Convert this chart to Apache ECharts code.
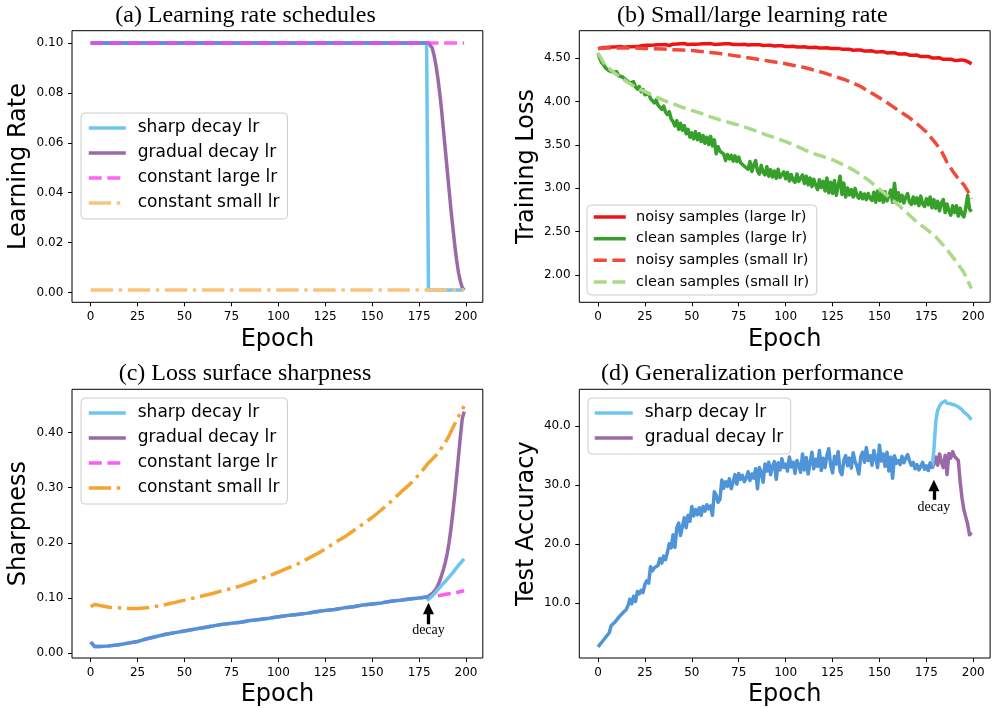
<!DOCTYPE html>
<html><head><meta charset="utf-8">
<script src="https://cdn.jsdelivr.net/npm/echarts@6/dist/echarts.min.js"></script>
<style>html,body{margin:0;padding:0;background:#fff}#c{width:992px;height:708px}</style>
</head><body><div id="c"></div>
<script>
// ---------- tick labels ----------
const epochTicks = [0, 25, 50, 75, 100, 125, 150, 175, 200];
const lrTicks = [0, 0.02, 0.04, 0.06, 0.08, 0.10];
const lossTicks = [2.0, 2.5, 3.0, 3.5, 4.0, 4.5];
const sharpTicks = [0, 0.1, 0.2, 0.3, 0.4];
const accTicks = [10, 20, 30, 40];

// ---------- (a) learning rate schedules ----------
const aSharedEpochs = [0, 179];
const aSharedLr = [0.1, 0.1];
const aSharpEpochs = [0, 179, 180, 199];
const aSharpLr = [0.1, 0.1, 0.001, 0.001];
const aGradualEpochs = [0, 180, 181, 182, 183, 184, 185, 186, 187, 188, 189, 190, 191, 192, 193, 194, 195, 196, 197, 198, 199];
const aGradualLr = [0.1, 0.1, 0.0995, 0.098, 0.095, 0.091, 0.086, 0.080, 0.073, 0.065, 0.057, 0.049, 0.041, 0.033, 0.026, 0.019, 0.013, 0.008, 0.0045, 0.002, 0.001];
const aLargeEpochs = [0, 199];
const aLargeLr = [0.1, 0.1];
const aSmallEpochs = [0, 199];
const aSmallLr = [0.001, 0.001];

// ---------- (b) training loss ----------
const bNoisyLarge = [
4.612,4.618,4.621,4.617,4.625,4.622,4.628,4.624,4.631,4.627,
4.633,4.629,4.636,4.631,4.628,4.637,4.634,4.640,4.635,4.642,
4.638,4.645,4.641,4.636,4.647,4.643,4.650,4.644,4.652,4.646,
4.653,4.649,4.656,4.651,4.658,4.653,4.660,4.655,4.648,4.659,
4.663,4.657,4.665,4.660,4.668,4.662,4.671,4.664,4.659,4.666,
4.662,4.669,4.664,4.670,4.665,4.660,4.667,4.662,4.669,4.664,
4.670,4.665,4.661,4.668,4.663,4.670,4.666,4.672,4.667,4.662,
4.668,4.663,4.659,4.665,4.660,4.666,4.661,4.657,4.663,4.658,
4.655,4.661,4.656,4.662,4.657,4.652,4.658,4.653,4.649,4.655,
4.650,4.646,4.652,4.647,4.643,4.649,4.644,4.640,4.645,4.641,
4.637,4.643,4.638,4.634,4.640,4.635,4.631,4.637,4.632,4.628,
4.634,4.629,4.625,4.631,4.626,4.622,4.628,4.623,4.619,4.625,
4.620,4.616,4.622,4.617,4.613,4.619,4.614,4.609,4.615,4.610,
4.606,4.612,4.604,4.598,4.606,4.600,4.594,4.601,4.595,4.589,
4.596,4.590,4.584,4.592,4.585,4.579,4.587,4.580,4.574,4.582,
4.575,4.569,4.577,4.570,4.563,4.571,4.564,4.557,4.565,4.558,
4.551,4.559,4.550,4.543,4.552,4.544,4.537,4.545,4.537,4.529,
4.538,4.529,4.521,4.530,4.521,4.513,4.522,4.513,4.505,4.514,
4.505,4.497,4.506,4.497,4.489,4.498,4.489,4.482,4.491,4.483,
4.476,4.486,4.478,4.471,4.482,4.493,4.472,4.462,4.451,4.435];
const bCleanLarge = [
4.560,4.495,4.450,4.425,4.390,4.385,4.355,4.378,4.340,4.335,
4.345,4.300,4.310,4.285,4.262,4.250,4.270,4.215,4.205,4.230,
4.170,4.145,4.175,4.115,4.140,4.080,4.060,4.095,4.035,4.045,
3.985,4.020,3.960,3.965,3.910,3.950,3.880,3.850,3.885,3.800,
3.770,3.720,3.780,3.680,3.750,3.670,3.725,3.630,3.680,3.590,
3.640,3.570,3.655,3.560,3.630,3.540,3.610,3.520,3.590,3.505,
3.600,3.490,3.560,3.400,3.480,3.430,3.440,3.395,3.320,3.390,
3.340,3.380,3.315,3.375,3.310,3.360,3.295,3.315,3.255,3.240,
3.220,3.310,3.195,3.270,3.320,3.200,3.165,3.265,3.185,3.155,
3.250,3.140,3.215,3.130,3.200,3.115,3.220,3.125,3.105,3.190,
3.110,3.185,3.085,3.160,3.095,3.070,3.165,3.080,3.060,3.155,
3.055,3.140,3.040,3.120,3.020,3.105,3.035,2.985,3.100,3.010,
3.080,2.970,3.120,2.950,3.070,2.940,3.090,2.920,3.030,3.140,
2.930,3.060,2.900,3.005,2.925,2.985,2.900,3.000,2.915,2.885,
2.950,2.880,2.935,2.870,2.940,2.885,2.860,2.955,2.840,2.970,
2.860,2.940,2.840,2.960,2.855,2.920,2.980,2.840,3.060,2.860,
2.950,2.850,2.920,2.830,2.900,2.940,2.840,2.815,2.900,2.825,
2.890,2.800,2.910,2.820,2.790,2.880,2.810,2.900,2.775,2.870,
2.770,2.850,2.740,2.830,2.870,2.720,2.820,2.740,2.690,2.800,
2.720,2.800,2.680,2.770,2.700,2.670,2.780,2.920,2.760,2.730];
const bNoisySmallEpochs = [0,5,10,15,20,25,30,35,40,45,50,55,60,65,70,75,80,85,90,95,100,105,110,115,120,125,130,135,140,145,150,155,160,165,170,175,180,183,186,189,192,195,197,199];
const bNoisySmall = [4.615,4.618,4.620,4.620,4.618,4.615,4.612,4.607,4.600,4.595,4.590,4.580,4.568,4.555,4.540,4.525,4.507,4.490,4.472,4.455,4.438,4.415,4.395,4.365,4.335,4.300,4.265,4.225,4.175,4.110,4.045,3.975,3.900,3.830,3.745,3.650,3.520,3.430,3.300,3.200,3.110,3.040,2.970,2.880];
const bCleanSmallEpochs = [0,3,5,10,15,20,25,30,35,40,45,50,55,60,65,70,75,80,85,90,95,100,105,110,115,120,125,130,135,140,145,150,155,160,165,170,175,180,185,190,195,199];
const bCleanSmall = [4.560,4.450,4.400,4.310,4.235,4.165,4.115,4.065,4.015,3.975,3.935,3.900,3.865,3.825,3.790,3.760,3.730,3.695,3.655,3.615,3.578,3.540,3.495,3.445,3.400,3.365,3.330,3.280,3.225,3.160,3.080,2.990,2.900,2.810,2.710,2.610,2.530,2.440,2.320,2.180,2.030,1.845];

// ---------- (c) sharpness ----------
const cSharedEpochs = [0,1,2,5,10,15,20,25,30,35,40,45,50,55,60,65,70,75,80,85,90,95,100,105,110,115,120,125,130,135,140,145,150,155,160,165,170,175,180];
const cShared = [0.020,0.016,0.012,0.012,0.013,0.015,0.018,0.021,0.026,0.030,0.034,0.037,0.040,0.043,0.046,0.049,0.052,0.054,0.056,0.059,0.061,0.063,0.066,0.068,0.070,0.072,0.075,0.077,0.079,0.082,0.084,0.087,0.089,0.091,0.094,0.096,0.098,0.100,0.102];
const cLargeTailEpochs = [180,185,190,195,199];
const cLargeTail = [0.102,0.104,0.107,0.110,0.113];
const cSharpTailEpochs = [179,180,181,183,185,187,190,193,196,199];
const cSharpTail = [0.101,0.097,0.100,0.107,0.115,0.123,0.134,0.146,0.159,0.171];
const cGradualTailEpochs = [179,180,182,184,185,186,187,188,189,190,191,192,193,194,195,196,197,198,199];
const cGradualTail = [0.101,0.102,0.108,0.116,0.123,0.131,0.141,0.152,0.165,0.181,0.201,0.226,0.255,0.287,0.321,0.357,0.393,0.425,0.438];
const cSmallEpochs = [0,2,4,7,10,15,20,25,30,35,40,45,50,55,60,65,70,75,80,85,90,95,100,105,110,115,120,125,130,135,140,145,150,155,160,165,170,175,180,185,190,195,199];
const cSmall = [0.084,0.088,0.087,0.085,0.083,0.082,0.081,0.081,0.082,0.085,0.088,0.092,0.096,0.100,0.104,0.108,0.113,0.117,0.122,0.128,0.134,0.140,0.147,0.154,0.161,0.170,0.179,0.189,0.200,0.210,0.222,0.234,0.246,0.260,0.275,0.291,0.306,0.324,0.345,0.362,0.388,0.423,0.448];
const cDecayArrow = [180, 0.0522, 0.0806, 0.0415]; // epoch, tail, head centre, text

// ---------- (d) test accuracy ----------
const dShared = [
2.6,3.0,3.4,3.6,4.2,4.5,5.0,6.2,5.9,6.8,
7.2,7.6,7.9,8.3,8.6,8.9,9.6,10.7,9.9,11.2,
10.3,12.0,11.6,12.2,11.8,13.2,13.8,13.4,16.2,15.5,
16.0,15.7,16.4,17.6,16.8,18.0,17.4,18.6,20.1,19.4,
21.6,19.5,22.8,23.6,21.5,23.0,24.5,22.8,24.9,23.9,
26.4,24.8,25.9,25.0,26.2,24.9,26.4,25.6,26.7,26.0,
26.5,24.9,28.9,28.3,27.1,27.6,30.9,29.5,30.6,29.8,
31.1,29.4,30.5,31.8,30.2,32.0,31.0,31.7,30.6,31.2,
32.3,30.8,31.9,31.2,32.8,29.4,33.0,32.2,30.5,33.6,
32.4,33.9,31.8,33.2,34.0,31.0,33.8,32.6,34.5,33.0,
33.6,32.4,34.8,33.1,33.9,32.0,34.2,33.4,32.2,35.3,
32.6,34.7,31.9,33.8,35.6,32.8,34.4,33.2,35.9,32.5,
34.6,33.0,35.1,36.2,33.4,32.1,34.9,33.6,35.7,32.4,
31.8,34.2,35.0,33.3,34.6,32.9,35.5,34.0,33.2,31.9,
34.8,35.6,33.9,36.4,34.2,35.0,33.4,35.9,34.5,33.0,
36.8,34.1,35.3,33.2,35.6,32.4,34.8,31.2,35.0,33.7,
34.2,33.5,34.9,33.8,34.6,35.2,34.1,33.4,33.9,32.8,
33.5,32.6,33.2,33.9,32.7,33.3,32.5,33.8,32.8];
const dTailEpochs = [178,179,180,181,182,183,184,185,186,187,188,189,190,191,192,193,194,195,196,197,198,199];
const dSharpTail = [32.8,36.0,40.8,42.7,43.4,43.9,44.2,44.3,43.9,44.0,43.8,43.9,43.6,43.5,43.3,43.1,42.8,42.4,42.1,41.9,41.5,41.1];
const dGradualTail = [32.8,33.6,34.8,33.4,35.3,33.9,33.0,35.1,31.8,35.4,34.6,35.7,34.9,35.0,34.2,30.6,27.8,25.8,24.6,23.4,21.6,22.0];
const dDecayArrow = [179, 27.54, 29.95, 26.21];

// ---------- build ----------
const zip = (xs, ys) => xs.map((x, i) => [x, ys[i]]);
const seq = ys => ys.map((y, i) => [i, y]);
const SANS = 'DejaVu Sans', SERIF = 'Liberation Serif';
const LW = 3.5;
const DASH = [13, 5.6];
const DASHDOT = [22.4, 5.6, 3.5, 5.6];

function line(name, gi, data, color, type, extra) {
  return Object.assign({
    type: 'line', name: name, xAxisIndex: gi, yAxisIndex: gi, data: data,
    symbol: 'none', showSymbol: false, silent: true, animation: false, clip: true,
    lineStyle: { color: color, width: LW, type: type || 'solid', join: 'round', cap: 'butt' },
    itemStyle: { color: color }, emphasis: { disabled: true }
  }, extra || {});
}
function arrow(spec) {
  return {
    markLine: {
      silent: true, animation: false, symbol: ['none', 'triangle'], symbolSize: [11, 11.5],
      lineStyle: { color: '#000', width: 3.3, type: 'solid' }, itemStyle: { color: '#000' },
      label: { show: false }, emphasis: { disabled: true },
      data: [[{ coord: [spec[0], spec[1]] }, { coord: [spec[0], spec[2]] }]]
    },
    markPoint: {
      silent: true, animation: false, symbol: 'rect', symbolSize: 1,
      itemStyle: { color: 'rgba(0,0,0,0)' },
      label: { show: true, position: 'inside', formatter: 'decay', color: '#000', fontFamily: SERIF, fontSize: 14 },
      data: [{ coord: [spec[0], spec[3]] }]
    }
  };
}

const grids = [
  { left: 72, top: 30.7, width: 410.8, height: 271.6 },
  { left: 579.3, top: 30.7, width: 410.8, height: 271.6 },
  { left: 72, top: 389.3, width: 410.8, height: 271.4 },
  { left: 579.3, top: 389.3, width: 410.8, height: 271.4 }
].map(g => Object.assign(g, { show: true, borderColor: '#000', borderWidth: 1, backgroundColor: 'rgba(0,0,0,0)', containLabel: false }));

const axisFont = { fontSize: 12, fontFamily: SANS, color: '#000' };
const nameFont = { fontSize: 24, fontFamily: SANS, color: '#000' };
function xAx(gi) {
  return {
    type: 'value', gridIndex: gi, min: -9.95, max: 208.95, position: 'bottom',
    axisLine: { show: false, onZero: false }, splitLine: { show: false },
    axisTick: { show: true, customValues: epochTicks, length: 4, lineStyle: { color: '#000', width: 1 } },
    axisLabel: Object.assign({ show: true, customValues: epochTicks, margin: 8.6 }, axisFont),
    name: 'Epoch', nameLocation: 'middle', nameGap: 25, nameTextStyle: nameFont
  };
}
function yAx(gi, min, max, ticks, dec, name, gap) {
  return {
    type: 'value', gridIndex: gi, min: min, max: max, position: 'left',
    axisLine: { show: false, onZero: false }, splitLine: { show: false },
    axisTick: { show: true, customValues: ticks, length: 4, lineStyle: { color: '#000', width: 1 } },
    axisLabel: Object.assign({ show: true, customValues: ticks, margin: 8.7, formatter: v => v.toFixed(dec) }, axisFont),
    name: name, nameLocation: 'middle', nameGap: gap, nameTextStyle: nameFont
  };
}
function legend(left, top, names, fs, lh, iw, gap, pad, tpad) {
  return {
    orient: 'vertical', left: left, top: top, data: names, selectedMode: false,
    itemWidth: iw, itemHeight: 12, itemGap: gap, padding: pad,
    formatter: n => n.slice(2),
    textStyle: { fontSize: fs, lineHeight: lh, fontFamily: SANS, color: '#000', padding: [0, 0, 0, tpad] },
    lineStyle: { width: LW }, itemStyle: { opacity: 0 },
    borderColor: '#cccccc', borderWidth: 1, borderRadius: 4, backgroundColor: 'rgba(255,255,255,0.8)'
  };
}
function title(text, x, top) {
  return { text: text, left: x, top: top, textAlign: 'center', padding: 0,
    textStyle: { fontFamily: SERIF, fontSize: 24, fontWeight: 'normal', color: '#000', lineHeight: 24 } };
}

const C_SHARP = '#6ec6f0', C_GRAD = '#9a6aa8', C_LARGE = '#ff3df0', C_SHARED = '#4f94d8';

const series = [
  // (a)
  line('a:gradual decay lr', 0, zip(aGradualEpochs, aGradualLr), C_GRAD),
  line('a:sharp decay lr', 0, zip(aSharpEpochs, aSharpLr), C_SHARP),
  line('a:shared', 0, zip(aSharedEpochs, aSharedLr), C_SHARED),
  line('a:constant large lr', 0, zip(aLargeEpochs, aLargeLr), C_LARGE, DASH, {lineStyle:{color:C_LARGE,width:LW,type:DASH,opacity:0.8}}),
  line('a:constant small lr', 0, zip(aSmallEpochs, aSmallLr), '#f8c47c', DASHDOT),
  // (b)
  line('b:noisy samples (large lr)', 1, seq(bNoisyLarge), '#ee1414'),
  line('b:clean samples (large lr)', 1, seq(bCleanLarge), '#36a02a'),
  line('b:noisy samples (small lr)', 1, zip(bNoisySmallEpochs, bNoisySmall), '#f24a3a', DASH),
  line('b:clean samples (small lr)', 1, zip(bCleanSmallEpochs, bCleanSmall), '#a8da88', DASH),
  // (c)
  line('c:constant large lr', 2, zip(cSharedEpochs.concat(cLargeTailEpochs.slice(1)), cShared.concat(cLargeTail.slice(1))), C_LARGE, DASH, {lineStyle:{color:C_LARGE,width:LW,type:DASH,opacity:0.85}}),
  line('c:constant small lr', 2, zip(cSmallEpochs, cSmall), '#f4a431', DASHDOT),
  line('c:gradual decay lr', 2, zip(cGradualTailEpochs, cGradualTail), C_GRAD),
  line('c:sharp decay lr', 2, zip(cSharpTailEpochs, cSharpTail), C_SHARP),
  line('c:shared', 2, zip(cSharedEpochs, cShared), C_SHARED, 'solid', arrow(cDecayArrow)),
  // (d)
  line('d:gradual decay lr', 3, zip(dTailEpochs, dGradualTail), C_GRAD),
  line('d:sharp decay lr', 3, zip(dTailEpochs, dSharpTail), C_SHARP),
  line('d:shared', 3, seq(dShared), C_SHARED, 'solid', arrow(dDecayArrow))
];

const option = {
  animation: false,
  backgroundColor: '#ffffff',
  title: [
    title('(a) Learning rate schedules', 245.5, 3.4),
    title('(b) Small/large learning rate', 752.3, 3.4),
    title('(c) Loss surface sharpness', 245, 362),
    title('(d) Generalization performance', 752.3, 362)
  ],
  grid: grids,
  xAxis: [xAx(0), xAx(1), xAx(2), xAx(3)],
  yAxis: [
    yAx(0, -0.00395, 0.10495, lrTicks, 2, 'Learning Rate', 41),
    yAx(1, 1.685, 4.819, lossTicks, 2, 'Training Loss', 40.4),
    yAx(2, -0.009, 0.4786, sharpTicks, 2, 'Sharpness', 41),
    yAx(3, 0.727, 46.26, accTicks, 1, 'Test Accuracy', 40.4)
  ],
  legend: [
    legend(81, 113, ['a:sharp decay lr', 'a:gradual decay lr', 'a:constant large lr', 'a:constant small lr'], 17, 17, 37, 8, [6.5, 8, 7.5, 6], 7),
    legend(587, 205, ['b:noisy samples (large lr)', 'b:clean samples (large lr)', 'b:noisy samples (small lr)', 'b:clean samples (small lr)'], 14.5, 15, 32, 6.67, [4.5, 7.7, 5.5, 5], 5.3),
    legend(81, 398, ['c:sharp decay lr', 'c:gradual decay lr', 'c:constant large lr', 'c:constant small lr'], 17, 17, 37, 8, [6.5, 8, 7.5, 6], 7),
    legend(588, 398, ['d:sharp decay lr', 'd:gradual decay lr'], 17, 17, 38, 8, [6.5, 7.5, 7.5, 5], 7)
  ],
  series: series
};
const chart = echarts.init(document.getElementById('c'), null, { renderer: 'canvas' });
chart.setOption(option);
</script></body></html>
